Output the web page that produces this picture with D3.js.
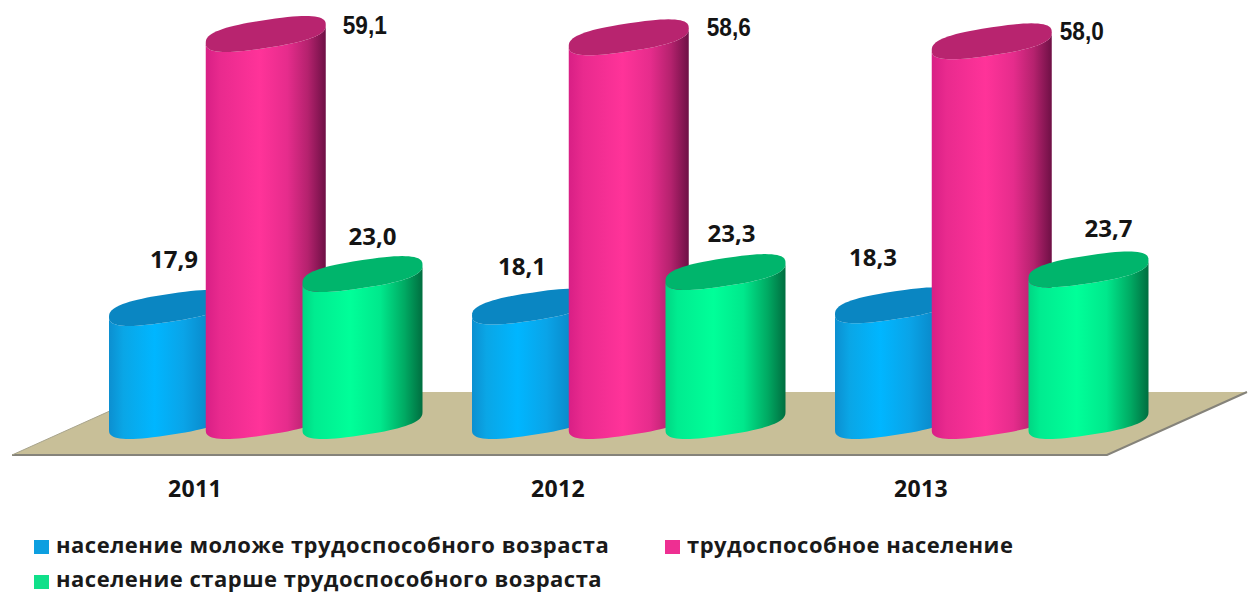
<!DOCTYPE html>
<html lang="ru">
<head>
<meta charset="utf-8">
<script src="https://cdn.jsdelivr.net/npm/d3@7/dist/d3.min.js"></script>
<style>
html,body{margin:0;padding:0;background:#fff;}
svg{display:block;}
</style>
</head>
<body>
<svg id="chart" width="1251" height="593"></svg>
<script>
// Age structure of the population, percent
const years = ["2011", "2012", "2013"];
const youngValues = [17.9, 18.1, 18.3];
const workingValues = [59.1, 58.6, 58.0];
const olderValues = [23.0, 23.3, 23.7];
const seriesNames = [
  "население моложе трудоспособного возраста",
  "трудоспособное население",
  "население старше трудоспособного возраста"
];

const W = 1251, H = 593;
const svg = d3.select("#chart").attr("viewBox", `0 0 ${W} ${H}`);
const defs = svg.append("defs");

const series = [
  { name: seriesNames[0], values: youngValues, swatch: "#0d9fe0", lid: "#0a86c2",
    stops: [[0, "#0c8fd0"], [0.12, "#0aa6e6"], [0.38, "#00b6ff"], [0.62, "#0aa4e8"], [0.85, "#0a86c6"], [1, "#086a9e"]] },
  { name: seriesNames[1], values: workingValues, swatch: "#ee2f92", lid: "#b8246f",
    stops: [[0, "#d81f85"], [0.12, "#e92a8e"], [0.45, "#ff3399"], [0.68, "#e62c8c"], [0.85, "#b5226e"], [1, "#6e1045"]] },
  { name: seriesNames[2], values: olderValues, swatch: "#10e08a", lid: "#00b56c",
    stops: [[0, "#00d683"], [0.1, "#00ec90"], [0.4, "#00ff99"], [0.65, "#00e88c"], [0.85, "#00aa63"], [1, "#006e40"]] }
];

series.forEach((s, i) => {
  const g = defs.append("linearGradient").attr("id", `body-${i}`)
    .attr("x1", 0).attr("x2", 1).attr("y1", 0).attr("y2", 0);
  s.stops.forEach(([o, c]) => g.append("stop").attr("offset", o).attr("stop-color", c));
});

// Scales: category groups, cylinders inside a group, value to height of the cylinder's left edge
const groupX = d3.scaleBand().domain(years).range([109, 1198]).paddingInner(0).paddingOuter(0);
const cylX = d3.scalePoint().domain(d3.range(3)).range([0, 193.5]);
const y = d3.scaleLinear().domain([0, 60]).range([436, 37]);

const cylWidth = 120;
const baseLeftY = 430;       // where the left edge of each cylinder meets the floor
const rise = 18;             // the ellipse tilts up by this much from left to right
const minor = 14;            // vertical half-thickness of the ellipse
const squareness = 0.75;     // below 1 the outline gets fuller, blunter ends

const soft = v => Math.sign(v) * Math.pow(Math.abs(v), squareness);

// Parametric point on the tilted outline whose left extreme is (x0, leftY)
function ellipsePoint(x0, leftY, t) {
  const a = cylWidth / 2;
  const c = soft(Math.cos(t));
  const s = soft(Math.sin(t));
  return [x0 + a + a * c, leftY - rise / 2 + minor * s - (rise / 2) * c];
}
const line = d3.line();

function lidPath(x0, leftY) {
  return line(d3.range(0, 73).map(k => ellipsePoint(x0, leftY, k * Math.PI / 36))) + "Z";
}
function bodyPath(x0, topY) {
  // lower half of the top outline, down the right side, back along the front of the base
  const top = d3.range(0, 37).map(k => ellipsePoint(x0, topY, Math.PI - k * Math.PI / 36));
  const bottom = d3.range(0, 37).map(k => ellipsePoint(x0, baseLeftY, k * Math.PI / 36));
  return line(top.concat(bottom)) + "Z";
}

// Floor plane
const floorCorners = [[12, 455], [152, 392], [1247, 392], [1107, 455]];
svg.append("path").attr("d", line(floorCorners) + "Z").attr("fill", "#c8bf98");
svg.append("path").attr("d", line([floorCorners[0], floorCorners[3], floorCorners[2]]))
  .attr("fill", "none").attr("stroke", "#85837a").attr("stroke-width", 2);
svg.append("path").attr("d", line([floorCorners[0], floorCorners[1]]))
  .attr("fill", "none").attr("stroke", "#a8a48c").attr("stroke-width", 1);

// Cylinders: the middle one stands over its left neighbour, the right one over the middle
const groups = svg.selectAll("g.year").data(years).join("g").attr("class", "year");
series.forEach((s, i) => {
  groups.each(function (yr, j) {
    const x0 = groupX(yr) + cylX(i);
    const topY = y(s.values[j]);
    const g = d3.select(this).append("g").attr("class", "cylinder");
    g.append("path").attr("d", bodyPath(x0, topY)).attr("fill", `url(#body-${i})`);
    g.append("path").attr("d", lidPath(x0, topY)).attr("fill", s.lid);
  });
});

// Value labels sit by hand next to each cylinder, as offsets from its top left edge
const labelDx = [[65, 50, 38], [159, 160, 150], [70, 66, 80]];
const labelDy = [[-58, -49, -57], [-18, -19, -19], [-47, -48, -50]];
const fmt = v => d3.format(".1f")(v).replace(".", ",");

series.forEach((s, i) => {
  const narrow = i === 1;
  years.forEach((yr, j) => {
    const label = svg.append("text")
      .attr("x", groupX(yr) + cylX(i) + labelDx[i][j])
      .attr("y", y(s.values[j]) + labelDy[i][j])
      .attr("dy", "0.36em")
      .attr("text-anchor", "middle")
      .attr("font-family", narrow ? "'Liberation Sans',sans-serif" : "'Open Sans',sans-serif")
      .attr("font-weight", 700)
      .attr("font-size", narrow ? 25 : 24)
      .attr("fill", "#141414")
      .text(fmt(s.values[j]));
    if (narrow) label.attr("textLength", 44).attr("lengthAdjust", "spacingAndGlyphs");
  });
});

// Year captions under the floor
svg.selectAll("text.year-label").data(years).join("text")
  .attr("class", "year-label")
  .attr("x", d => groupX(d) + 86)
  .attr("y", 489)
  .attr("dy", "0.36em")
  .attr("text-anchor", "middle")
  .attr("font-family", "'Open Sans',sans-serif")
  .attr("font-weight", 700)
  .attr("font-size", 23)
  .attr("letter-spacing", 0.4)
  .attr("fill", "#141414")
  .text(d => d);

// Legend
const legendSlots = [[34, 540, 13], [665, 540, 13], [34, 575, 11.5]];
const legend = svg.selectAll("g.legend").data(series).join("g")
  .attr("class", "legend")
  .attr("transform", (d, i) => `translate(${legendSlots[i][0]},${legendSlots[i][1]})`);
legend.append("rect").attr("width", 15).attr("height", 14).attr("fill", d => d.swatch);
legend.append("text")
  .attr("x", 22).attr("y", (d, i) => legendSlots[i][2])
  .attr("font-family", "'Open Sans',sans-serif")
  .attr("font-weight", 700)
  .attr("font-size", 22)
  .attr("letter-spacing", 0.5)
  .attr("fill", "#1a1a1a")
  .text(d => d.name);
</script>
</body>
</html>
